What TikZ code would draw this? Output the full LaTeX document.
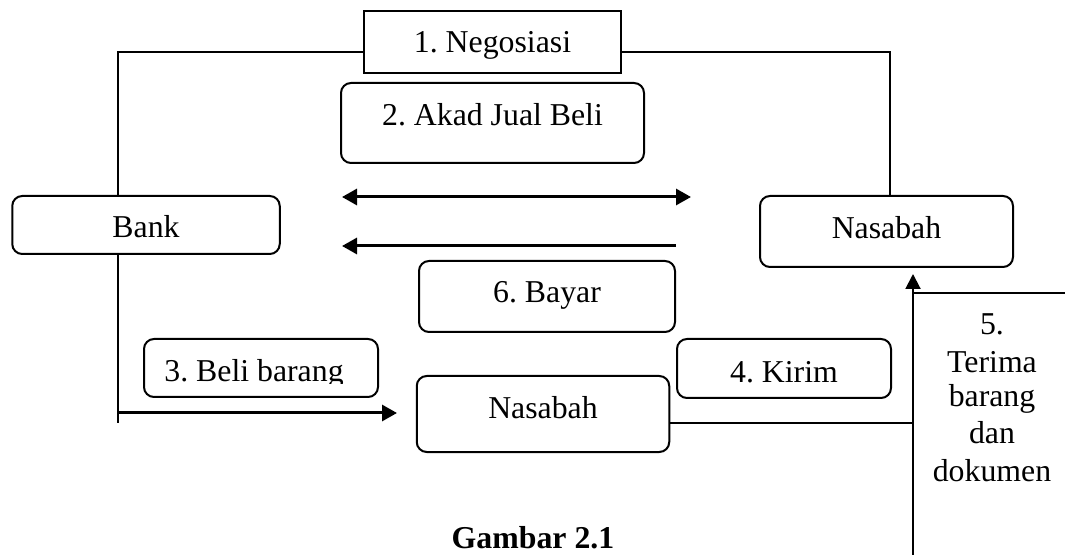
\documentclass[tikz,border=0pt]{standalone}
\usepackage{fontspec}
\setmainfont{Liberation Serif}
\usetikzlibrary{arrows.meta}
\frenchspacing
\begin{document}
\begin{tikzpicture}[x=0.5pt,y=-0.5pt,
  font=\fontsize{15.9}{18.25}\selectfont\frenchspacing,
  box/.style={draw, line width=1pt, rounded corners=5pt, inner sep=0pt},
  sqbox/.style={draw, line width=1pt, inner sep=0pt},
  conn/.style={line width=1pt},
  arr/.style={line width=1.5pt, -{Triangle[length=7.5pt,width=8pt]}},
  darr/.style={line width=1.5pt, {Triangle[length=7.5pt,width=8pt]}-{Triangle[length=7.5pt,width=8pt]}},
  txt/.style={anchor=base, inner sep=0pt}]
\useasboundingbox (0,0) rectangle (1065,555);

% boxes
\node[sqbox, minimum width=128.5pt, minimum height=31pt] (nego) at (492.5,42) {};
\node[txt] (negot) at (492.5,52.7) {1. Negosiasi};

\node[box, minimum width=151.5pt, minimum height=40pt] (akad) at (492.5,123) {};
\node[txt] (akadt) at (492.5,126) {2. Akad Jual Beli};

\node[box, minimum width=133.75pt, minimum height=29pt] (bank) at (146,225) {};
\node[txt] (bankt) at (146,238) {Bank};

\node[box, minimum width=126.5pt, minimum height=35.5pt] (nas1) at (886.5,231.5) {};
\node[txt] (nas1t) at (886.5,239) {Nasabah};

\node[box, minimum width=128pt, minimum height=35.5pt] (bayar) at (547,296.5) {};
\node[txt] (bayart) at (547,303) {6. Bayar};

\node[box, minimum width=117pt, minimum height=29pt] (beli) at (261,368) {};
\begin{scope}
  \clip (144,339) rectangle (378,383.3);
  \node[txt] (belit) at (254,382) {3. Beli barang};
\end{scope}

\node[box, minimum width=107pt, minimum height=29.5pt] (kirim) at (784,368.5) {};
\node[txt] (kirimt) at (784,382.7) {4. Kirim};

\node[box, minimum width=126.25pt, minimum height=38pt] (nas2) at (543,414) {};
\node[txt] (nas2t) at (543,419) {Nasabah};

% step 5 text
\node[txt] (t5a) at (992,335) {5.};
\node[txt] (t5b) at (992,372) {Terima};
\node[txt] (t5c) at (992,407) {barang};
\node[txt] (t5d) at (992,444) {dan};
\node[txt] (t5e) at (992,481) {dokumen};

% caption
\node[txt, font=\fontsize{15.9}{18.25}\selectfont\bfseries] (cap) at (533,548) {Gambar 2.1};

% coordinates
\coordinate (da1) at (342,197);
\coordinate (da2) at (691,197);
\coordinate (la1) at (676,246);
\coordinate (la2) at (342,246);
\coordinate (bl) at (118,423);
\coordinate (ba1) at (118,413);
\coordinate (ba2) at (397,413);
\coordinate (vb) at (913,555);
\coordinate (vj) at (913,423);
\coordinate (tl1) at (913,293);
\coordinate (tl2) at (1065,293);

% connectors
\draw[conn] ([xshift=-14pt]bank.north) |- ([yshift=-5pt]nego.west);
\draw[conn] ([yshift=-5pt]nego.east) -| ([xshift=1.75pt]nas1.north);
\draw[darr] (da1) -- (da2);
\draw[arr] (la1) -- (la2);
\draw[conn] ([xshift=-14pt]bank.south) -- (bl);
\draw[arr] (ba1) -- (ba2);
\draw[conn] ([yshift=-4.5pt]nas2.east) -- (vj);
\draw[conn, -{Triangle[length=7.5pt,width=7.5pt]}, shorten >=3pt] (vb) -- ([xshift=13.25pt]nas1.south);
\draw[conn] (tl1) -- (tl2);
\end{tikzpicture}
\end{document}
